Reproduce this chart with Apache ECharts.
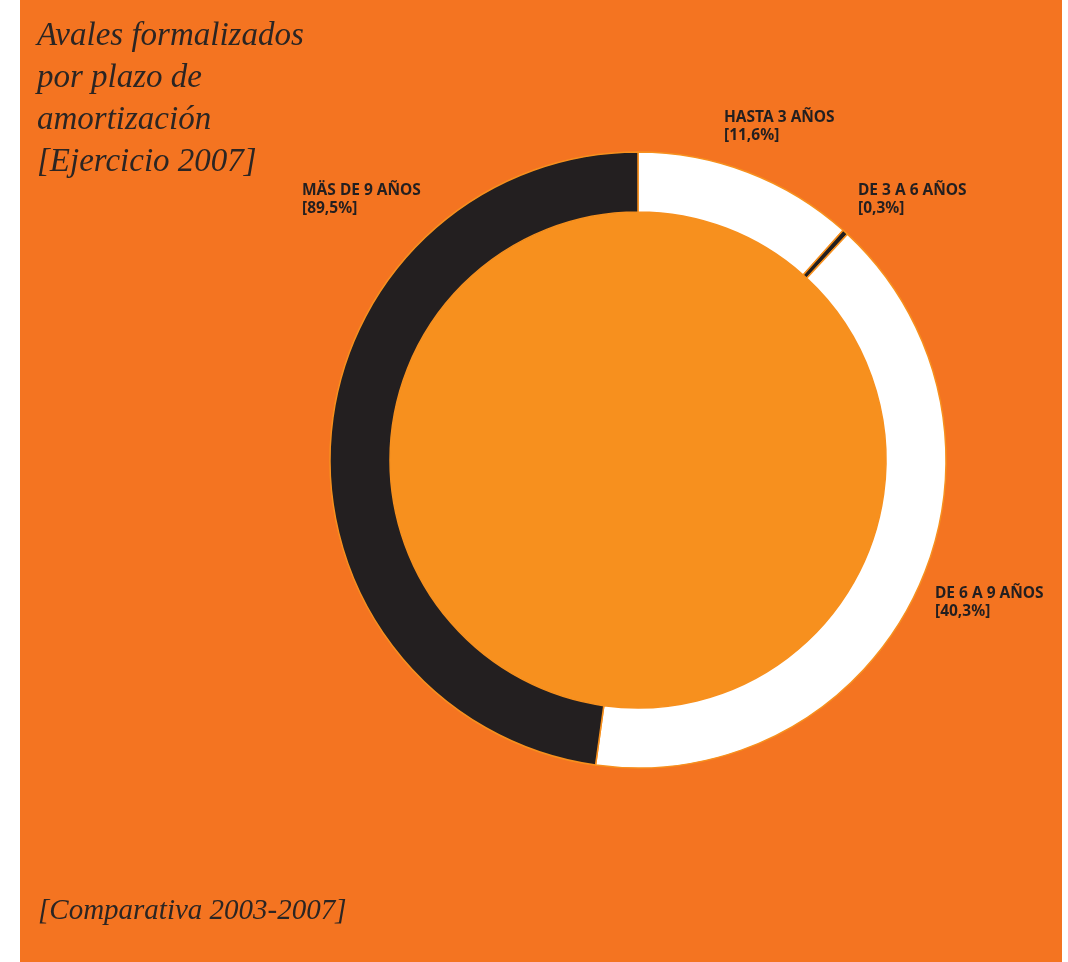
<!DOCTYPE html>
<html>
<head>
<meta charset="utf-8">
<title>Avales formalizados por plazo de amortización</title>
<script src="https://cdn.jsdelivr.net/npm/echarts@6/dist/echarts.min.js"></script>
<style>
    html, body { margin: 0; padding: 0; background: #ffffff; }
    #myChart { position: absolute; left: 20px; top: 0; width: 1042px; height: 962px; }
</style>
</head>
<body>
<div id="myChart"></div>
<script>
    // plazos, clockwise from 12 o'clock
    var categories = ['HASTA 3 AÑOS', 'DE 3 A 6 AÑOS', 'DE 6 A 9 AÑOS', 'MÄS DE 9 AÑOS'];
    // arc sizes (%)
    var values = [11.6, 0.3, 40.3, 47.8];
    // percentages as printed on the labels
    var printed = ['[11,6%]', '[0,3%]', '[40,3%]', '[89,5%]'];
    var sliceColors = ['#ffffff', '#231f20', '#ffffff', '#231f20'];

    // label anchors (top-left), chart coords
    var labelPos = [[704, 109], [838, 182], [915, 585], [282, 182]];

    var myChart = echarts.init(document.getElementById('myChart'));

    var option = {
        backgroundColor: '#f47421',
        animation: false,
        title: [
            {
                text: 'Avales formalizados\npor plazo de\namortización\n[Ejercicio 2007]',
                left: 12,
                top: 10,
                textStyle: {
                    fontFamily: 'Liberation Serif',
                    fontStyle: 'italic',
                    fontWeight: 'normal',
                    fontSize: 33,
                    lineHeight: 42,
                    color: '#2b2523'
                }
            },
            {
                text: '[Comparativa 2003-2007]',
                left: 13,
                top: 892,
                textStyle: {
                    fontFamily: 'Liberation Serif',
                    fontStyle: 'italic',
                    fontWeight: 'normal',
                    fontSize: 29,
                    color: '#2b2523'
                }
            }
        ],
        series: [
            {
                // inner disc
                type: 'pie',
                silent: true,
                center: [618, 460],
                radius: [0, 249],
                label: {show: false},
                labelLine: {show: false},
                itemStyle: {color: '#f7901e'},
                data: [{name: 'centro', value: 1}]
            },
            {
                type: 'pie',
                center: [618, 460],
                radius: [248, 308],
                startAngle: 90,
                clockwise: true,
                avoidLabelOverlap: false,
                itemStyle: {
                    borderColor: '#f7901e',
                    borderWidth: 1.5
                },
                label: {
                    show: true,
                    formatter: function (p) {
                        return p.name + '\n' + printed[p.dataIndex];
                    },
                    fontFamily: 'Noto Sans',
                    fontWeight: 'bold',
                    fontSize: 15.5,
                    lineHeight: 18,
                    color: '#231f20'
                },
                labelLine: {show: false},
                labelLayout: function (params) {
                    var p = labelPos[params.dataIndex];
                    return {x: p[0], y: p[1], align: 'left', verticalAlign: 'top'};
                },
                data: categories.map(function (c, i) {
                    return {name: c, value: values[i], itemStyle: {color: sliceColors[i]}};
                })
            }
        ]
    };

    myChart.setOption(option);
</script>
</body>
</html>
